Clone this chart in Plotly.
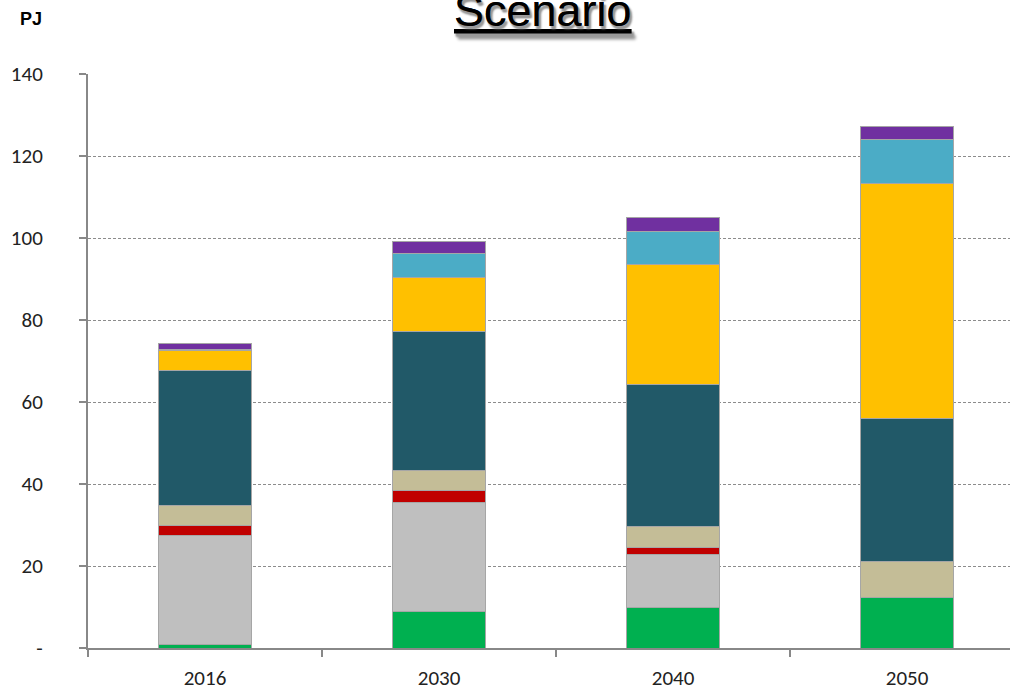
import plotly.graph_objects as go

years = ["2016", "2030", "2040", "2050"]

# stacked segment values (PJ), bottom to top
green_vals = [0.8, 8.8, 9.9, 12.3]
gray_vals = [26.6, 26.6, 13.0, 0.0]
red_vals = [2.6, 3.0, 1.6, 0.0]
tan_vals = [4.7, 4.8, 5.1, 8.7]
teal_vals = [32.9, 34.0, 34.6, 34.9]
yellow_vals = [4.9, 13.2, 29.3, 57.3]
blue_vals = [0.3, 5.9, 8.1, 10.8]
purple_vals = [1.5, 2.9, 3.3, 3.1]

y_ticks = [0, 20, 40, 60, 80, 100, 120, 140]
y_tick_text = ["-", "20", "40", "60", "80", "100", "120", "140"]

series = [
    ("green", green_vals, "#00B050"),
    ("gray", gray_vals, "#BFBFBF"),
    ("red", red_vals, "#C00000"),
    ("tan", tan_vals, "#C4BD97"),
    ("teal", teal_vals, "#215968"),
    ("yellow", yellow_vals, "#FFC000"),
    ("blue", blue_vals, "#4BACC6"),
    ("purple", purple_vals, "#7030A0"),
]

fig = go.Figure()
for name, vals, color in series:
    fig.add_trace(go.Bar(
        x=years, y=vals, name=name, width=0.4,
        marker=dict(color=color, line=dict(color="#A6A6A6", width=1)),
        showlegend=False,
    ))

tick_font = dict(family="Carlito, Calibri, Lato, sans-serif", size=21, color="#222222")

fig.update_layout(
    width=1010, height=689,
    margin=dict(l=88, r=0, t=74, b=41),
    barmode="stack",
    plot_bgcolor="white", paper_bgcolor="white",
    xaxis=dict(
        type="category", range=[-0.5, 3.44],
        showline=True, linecolor="#888888", linewidth=2,
        ticks="outside", tickson="boundaries", ticklen=7, tickwidth=2, tickcolor="#888888",
        tickfont=tick_font, ticklabelstandoff=10,
        showgrid=False, automargin=False,
    ),
    yaxis=dict(
        range=[0, 140], tickvals=y_ticks, ticktext=y_tick_text,
        showline=True, linecolor="#888888", linewidth=2,
        ticks="outside", ticklen=7, tickwidth=2, tickcolor="#888888",
        tickfont=tick_font, ticklabelstandoff=32,
        showgrid=True, gridcolor="#8C8C8C", gridwidth=1, griddash="3px,2px",
        zeroline=False, automargin=False,
    ),
    annotations=[
        dict(text="<u>Scenario</u>", xref="paper", yref="paper",
             x=(543 - 88) / 922, y=1.0, yshift=64, xanchor="center", yanchor="middle",
             showarrow=False,
             font=dict(family="Liberation Sans, Arial", size=45, color="#000000",
                       shadow="2px 3px 2px #999999")),
        dict(text="<b>PJ</b>", xref="paper", yref="paper",
             x=(31 - 88) / 922, y=1.0, yshift=55, xanchor="center", yanchor="middle",
             showarrow=False,
             font=dict(family="Liberation Sans, Arial", size=18, color="#000000")),
    ],
)

fig.write_html(
    "out.html",
    config={"displayModeBar": False},
    post_script="document.body.style.margin='0';document.body.style.overflow='hidden';",
)
